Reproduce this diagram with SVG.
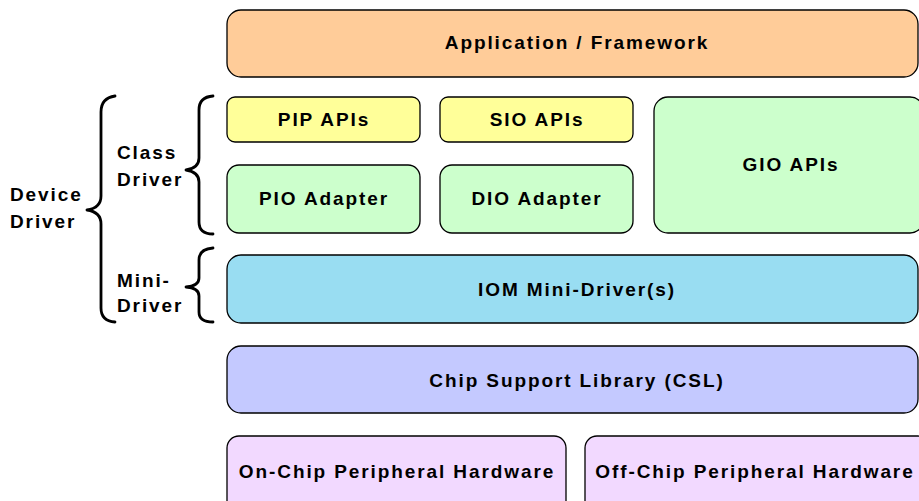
<svg xmlns="http://www.w3.org/2000/svg" width="919" height="501" viewBox="0 0 919 501">
<defs>
<style>
.box{stroke:#000;stroke-width:1.3}
.t{font-family:"Liberation Sans",Arial,sans-serif;font-weight:bold;font-size:19px;letter-spacing:1.9px;fill:#000}
.c{text-anchor:middle}
.br{fill:none;stroke:#000;stroke-width:2.8;stroke-linejoin:round;stroke-linecap:round}
</style>
</defs>
<rect width="919" height="501" fill="#fff"/>
<g id="app"><rect class="box" x="227" y="10" width="691" height="67" rx="14" fill="#FFCC99"/><text class="t c" x="577" y="49">Application / Framework</text></g>
<g id="pip"><rect class="box" x="227" y="97" width="193" height="45" rx="8" fill="#FFFF99"/><text class="t c" x="324" y="126">PIP APIs</text></g>
<g id="sio"><rect class="box" x="440" y="97" width="193" height="45" rx="8" fill="#FFFF99"/><text class="t c" x="537" y="126">SIO APIs</text></g>
<g id="gio"><rect class="box" x="654" y="97" width="270" height="136" rx="14" fill="#CCFFCC"/><text class="t c" x="791" y="171">GIO APIs</text></g>
<g id="pio"><rect class="box" x="227" y="165" width="193" height="68" rx="12" fill="#CCFFCC"/><text class="t c" x="324" y="205">PIO Adapter</text></g>
<g id="dio"><rect class="box" x="440" y="165" width="193" height="68" rx="12" fill="#CCFFCC"/><text class="t c" x="537" y="205">DIO Adapter</text></g>
<g id="iom"><rect class="box" x="227" y="255" width="691" height="68" rx="14" fill="#99DDF2"/><text class="t c" x="577" y="296">IOM Mini-Driver(s)</text></g>
<g id="csl"><rect class="box" x="227" y="346" width="691" height="67" rx="14" fill="#C4C9FF"/><text class="t c" x="577" y="387">Chip Support Library (CSL)</text></g>
<g id="onchip"><rect class="box" x="227" y="436" width="339" height="80" rx="12" fill="#F2D9FF"/><text class="t c" x="397" y="478">On-Chip Peripheral Hardware</text></g>
<g id="offchip"><rect class="box" x="585" y="436" width="345" height="80" rx="12" fill="#F2D9FF"/><text class="t c" x="755" y="478">Off-Chip Peripheral Hardware</text></g>
<g id="labels">
<text class="t" x="10" y="201">Device</text><text class="t" x="10" y="228">Driver</text>
<text class="t" x="117" y="159">Class</text><text class="t" x="117" y="186">Driver</text>
<text class="t" x="117" y="287">Mini-</text><text class="t" x="117" y="312">Driver</text>
</g>
<g id="connectors">
<path class="br" d="M115,96 Q101,98 101,112 L101,196 Q101,208 87,210 Q101,212 101,224 L101,308 Q101,321 115,322"/>
<path class="br" d="M213,96 Q199,97 199,110 L199,158 Q199,168 186,170 Q199,172 199,182 L199,222 Q199,234 213,234"/>
<path class="br" d="M213,248 Q199,249 199,260 L199,278 Q199,286 186,287 Q199,288 199,296 L199,312 Q199,322 213,322"/>
</g>
</svg>
